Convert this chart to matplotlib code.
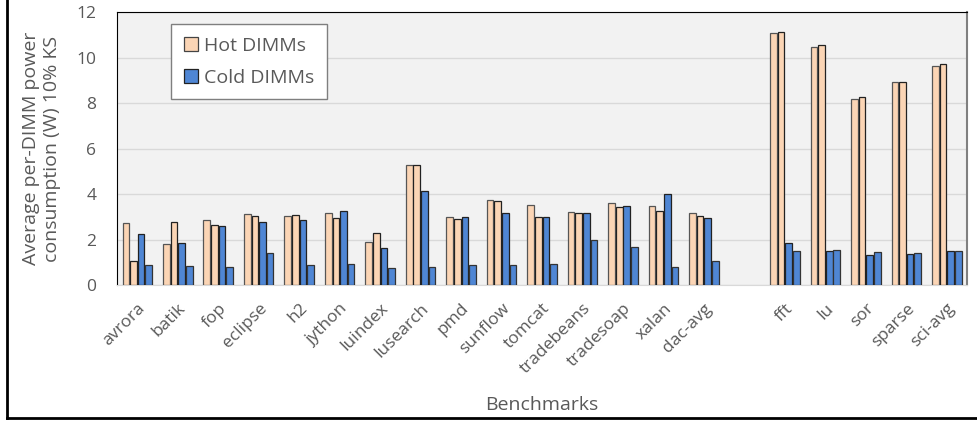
import numpy as np
import matplotlib.pyplot as plt
from matplotlib.lines import Line2D

plt.rcParams.update({
    'font.family': ['Open Sans', 'DejaVu Sans'],
    'font.size': 11,
})

# benchmark names; '' leaves an empty slot between the two suites
benchmarks = ['avrora', 'batik', 'fop', 'eclipse', 'h2', 'jython', 'luindex',
              'lusearch', 'pmd', 'sunflow', 'tomcat', 'tradebeans', 'tradesoap',
              'xalan', 'dac-avg', '', 'fft', 'lu', 'sor', 'sparse', 'sci-avg']

# two hot DIMMs and two cold DIMMs per benchmark (W)
hot1 = [2.71, 1.79, 2.86, 3.11, 3.03, 3.15, 1.89, 5.26, 2.97, 3.72, 3.52, 3.19,
        3.60, 3.47, 3.15, np.nan, 11.08, 10.46, 8.16, 8.91, 9.64]
hot2 = [1.05, 2.78, 2.62, 3.03, 3.08, 2.95, 2.30, 5.29, 2.89, 3.68, 2.97, 3.15,
        3.43, 3.24, 3.02, np.nan, 11.12, 10.55, 8.28, 8.91, 9.73]
cold1 = [2.24, 1.85, 2.58, 2.78, 2.86, 3.24, 1.62, 4.13, 2.97, 3.15, 2.97, 3.15,
         3.47, 3.99, 2.95, np.nan, 1.86, 1.49, 1.33, 1.38, 1.49]
cold2 = [0.88, 0.85, 0.81, 1.39, 0.88, 0.92, 0.74, 0.81, 0.88, 0.88, 0.92, 1.98,
         1.66, 0.81, 1.04, np.nan, 1.51, 1.54, 1.45, 1.41, 1.49]

hot_color = '#fbd5b5'
cold_color = '#4f86d4'
text_gray = '#595959'

fig = plt.figure(figsize=(9.77, 4.21), dpi=100)
ax = fig.add_axes([0.1198, 0.323, 0.870, 0.6485])
ax.set_facecolor('#f2f2f2')

x = np.arange(len(benchmarks))
w = 0.165
step = 0.188
series = [(hot1, hot_color, '#555555'), (hot2, hot_color, '#222222'),
          (cold1, cold_color, '#222222'), (cold2, cold_color, '#333333')]
for i, (vals, fc, ec) in enumerate(series):
    ax.bar(x + (i - 1.5) * step, vals, w, color=fc, edgecolor=ec,
           linewidth=0.9, zorder=3)

ax.set_xlim(-0.5, len(benchmarks) - 0.5)
ax.set_ylim(0, 12)
ax.set_yticks(range(0, 13, 2))
ax.yaxis.grid(True, color='#d9d9d9', linewidth=1, zorder=0)
ax.set_xticks(x)
ax.set_xticklabels(benchmarks, rotation=45, ha='right', rotation_mode='anchor')
ax.tick_params(axis='both', length=0, colors=text_gray, labelsize=12.5)
ax.tick_params(axis='x', pad=11)
ax.tick_params(axis='y', pad=15)

ax.spines['left'].set_color('black')
ax.spines['top'].set_color('black')
ax.spines['right'].set_color('#808080')
ax.spines['right'].set_linewidth(1.5)
ax.spines['bottom'].set_color('#d9d9d9')

ax.set_ylabel('Average per-DIMM power\nconsumption (W) 10% KS',
              fontsize=14, color=text_gray, labelpad=11)
ax.set_xlabel('Benchmarks', fontsize=14, color=text_gray, labelpad=14)

handles = [plt.Rectangle((0, 0), 1, 1, fc=hot_color, ec='#444444', lw=0.9),
           plt.Rectangle((0, 0), 1, 1, fc=cold_color, ec='#222222', lw=0.9)]
leg = ax.legend(handles, ['Hot DIMMs', 'Cold DIMMs'], loc='upper left',
                bbox_to_anchor=(0.052, 0.99), fontsize=14, fancybox=False,
                framealpha=1, edgecolor='#7f7f7f', handlelength=0.75,
                handleheight=0.75, handletextpad=0.3, borderpad=0.65,
                labelspacing=0.7, labelcolor=text_gray)
leg.get_frame().set_linewidth(1.0)

# frame lines on the left and bottom of the figure
fig.add_artist(Line2D([7 / 977, 7 / 977], [3 / 421, 1], color='black',
                      linewidth=2, transform=fig.transFigure))
fig.add_artist(Line2D([7 / 977, 1], [3 / 421, 3 / 421], color='black',
                      linewidth=2, transform=fig.transFigure))

fig.savefig('out.png', dpi=100)
